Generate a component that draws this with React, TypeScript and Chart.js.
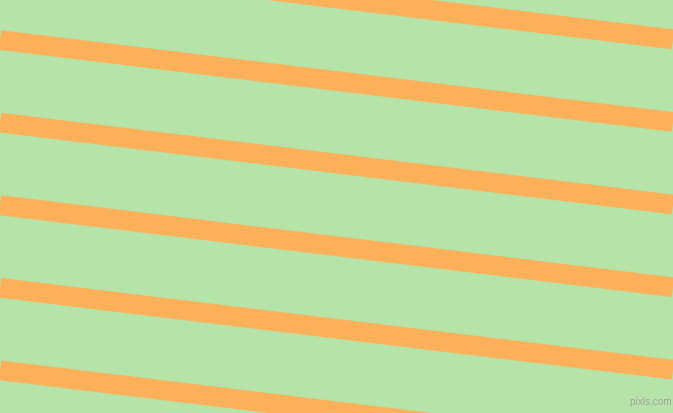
import { useEffect, useRef } from "react";
import { Chart, registerables } from "chart.js";

Chart.register(...registerables);

// stripe centre heights (px from top) at the left and right edge of the picture
const leftY = [-42.5, 40, 122.6, 205.2, 287.8, 370.4];
const rightY = [39.3, 121.9, 204.5, 287.1, 369.7, 452.3];
const xEdges = [0, 673];

const GREEN = "#b5e3a8";
const ORANGE = "#fdb05a";

const background = {
  id: "background",
  beforeDraw(chart: Chart) {
    const { ctx, width, height } = chart;
    ctx.save();
    ctx.fillStyle = GREEN;
    ctx.fillRect(0, 0, width, height);
    ctx.restore();
  },
};

export default function App() {
  const canvasRef = useRef<HTMLCanvasElement>(null);

  useEffect(() => {
    if (!canvasRef.current) return;
    const chart = new Chart(canvasRef.current, {
      type: "line",
      data: {
        datasets: leftY.map((l, i) => ({
          label: "stripe " + (i + 1),
          data: [
            { x: xEdges[0], y: l },
            { x: xEdges[1], y: rightY[i] },
          ],
          borderColor: ORANGE,
          borderWidth: 19.8,
          borderCapStyle: "butt" as const,
          pointRadius: 0,
          tension: 0,
        })),
      },
      options: {
        responsive: false,
        animation: false,
        layout: { padding: 0 },
        plugins: { legend: { display: false }, tooltip: { enabled: false } },
        scales: {
          x: { type: "linear", min: 0, max: 673, display: false },
          y: { type: "linear", min: 0, max: 413, reverse: true, display: false },
        },
      },
      plugins: [background],
    });
    return () => chart.destroy();
  }, []);

  return (
    <div style={{ position: "fixed", left: 0, top: 0, width: 673, height: 413 }}>
      <canvas ref={canvasRef} width={673} height={413} style={{ display: "block" }} />
      <span
        style={{
          position: "absolute",
          left: 630,
          top: 396,
          fontFamily: "Liberation Sans",
          fontSize: 10,
          lineHeight: "12px",
          color: "#8e9e88",
          textShadow: "0 0 1px #e6f3e0",
        }}
      >
        pixls.com
      </span>
    </div>
  );
}
